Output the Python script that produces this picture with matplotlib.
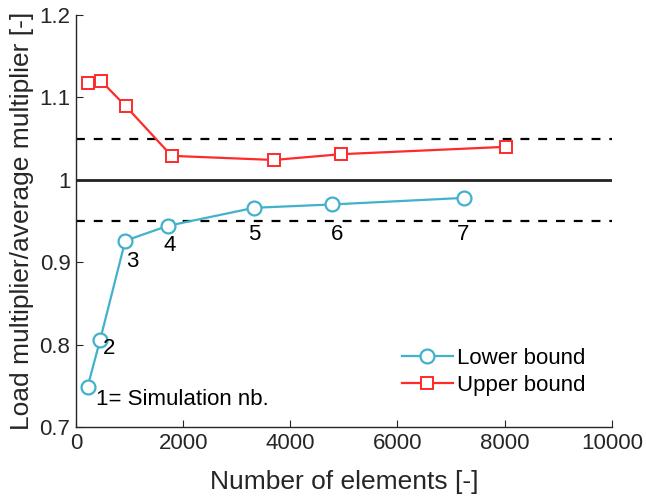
import numpy as np
import matplotlib.pyplot as plt

plt.rcParams["font.family"] = ["Liberation Sans", "DejaVu Sans"]

# Lower bound (blue circles)
x_lower = [218, 448, 920, 1710, 3327, 4770, 7239]
y_lower = [0.749, 0.805, 0.926, 0.944, 0.966, 0.970, 0.978]

# Upper bound (red squares)
x_upper = [218, 466, 933, 1785, 3694, 4944, 8035]
y_upper = [1.117, 1.120, 1.089, 1.029, 1.024, 1.031, 1.040]

sim_labels = ["1= Simulation nb.", "2", "3", "4", "5", "6", "7"]
# label offsets in pixels (dx, dy) relative to the lower-bound markers
label_offsets = [(8, -13), (9, -8), (7, -21), (2, -20), (0, -27), (6, -30), (-1, -37)]

blue = "#41B1CC"
red = "#FF2A2A"

fig = plt.figure(figsize=(6.46, 4.97), dpi=100)
ax = fig.add_axes([0.1176, 0.1408, 0.8294, 0.8292])

ax.plot([0, 10000], [1.0, 1.0], color="#222222", lw=2)
ax.plot([0, 10000], [1.05, 1.05], color="black", lw=1.6, ls=(0, (4, 4)))
ax.plot([0, 10000], [0.95, 0.95], color="black", lw=1.6, ls=(0, (4, 4)))

ax.plot(x_lower, y_lower, color=blue, lw=1.6, marker="o", ms=10,
        mfc="white", mec=blue, mew=1.6, label="Lower bound")
ax.plot(x_upper, y_upper, color=red, lw=1.6, marker="s", ms=8,
        mfc="white", mec=red, mew=1.4, label="Upper bound")

for i, (xv, yv, txt, off) in enumerate(zip(x_lower, y_lower, sim_labels, label_offsets)):
    ax.annotate(txt, (xv, yv), xytext=off, textcoords="offset pixels",
                fontsize=16, ha="left" if i == 0 else "center", va="center",
                color="black")

ax.set_xlim(0, 10000)
ax.set_ylim(0.7, 1.2)
ax.set_xticks([0, 2000, 4000, 6000, 8000, 10000])
ax.set_yticks([0.7, 0.8, 0.9, 1.0, 1.1, 1.2])
ax.set_yticklabels(["0.7", "0.8", "0.9", "1", "1.1", "1.2"])

ax.spines["top"].set_visible(False)
ax.spines["right"].set_visible(False)
for s in ["left", "bottom"]:
    ax.spines[s].set_color("#262626")
    ax.spines[s].set_linewidth(1.0)
ax.tick_params(direction="in", length=5, labelsize=16, colors="#262626", pad=4)

ax.set_xlabel("Number of elements [-]", fontsize=19, color="#262626", labelpad=12)
ax.set_ylabel("Load multiplier/average multiplier [-]", fontsize=19, color="#262626", labelpad=4)

ax.legend(loc="upper left", bbox_to_anchor=(0.571, 0.240), frameon=False,
          fontsize=16, handlelength=2.3, handletextpad=0.2, labelspacing=0.27)

fig.savefig("out.png", dpi=100)
